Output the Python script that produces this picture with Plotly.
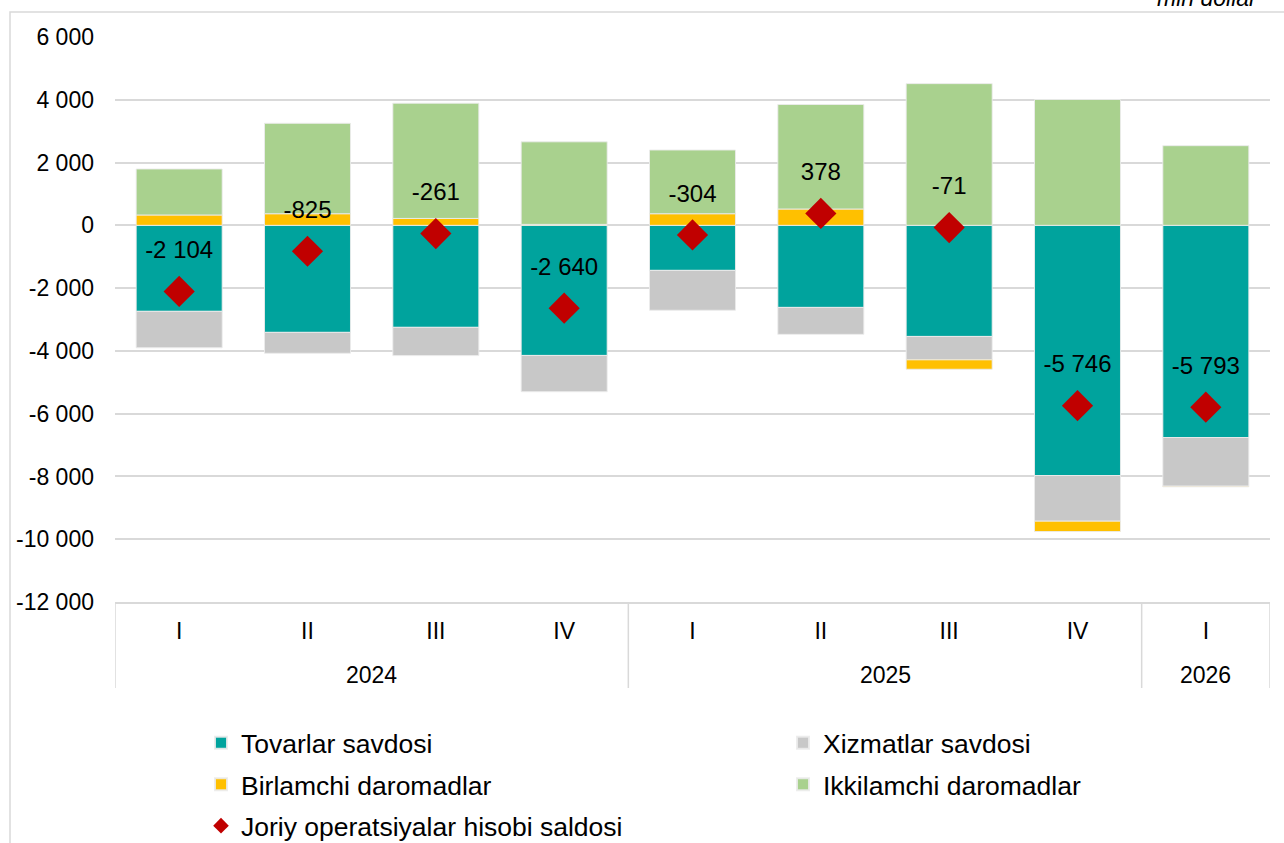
import plotly.graph_objects as go

years = ["2024"] * 4 + ["2025"] * 4 + ["2026"]
quarters = ["I", "II", "III", "IV", "I", "II", "III", "IV", "I"]

tovarlar = [-2740, -3410, -3250, -4145, -1435, -2615, -3540, -7970, -6760]
xizmatlar = [-1160, -665, -900, -1155, -1270, -857, -745, -1455, -1550]
birlamchi = [330, 370, 220, 30, 370, 520, -300, -330, -20]
ikkilamchi = [1465, 2880, 3670, 2630, 2030, 3330, 4514, 4009, 2537]
saldo = [-2104, -825, -261, -2640, -304, 378, -71, -5746, -5793]

y_ticks = [6000, 4000, 2000, 0, -2000, -4000, -6000, -8000, -10000, -12000]


def fmt(v):
    return f"{v:,}".replace(",", " ")


cats = [f"{y} {q}" for y, q in zip(years, quarters)]
FONT = "Liberation Sans, Arial, sans-serif"

fig = go.Figure()
bar_line = dict(color="rgba(235,235,235,0.9)", width=1)
fig.add_trace(go.Bar(x=cats, y=tovarlar, name="Tovarlar savdosi", legend="legend",
                     legendgroup="a", marker=dict(color="#00A39D", line=bar_line)))
fig.add_trace(go.Bar(x=cats, y=xizmatlar, name="Xizmatlar savdosi", legend="legend2",
                     legendgroup="b", marker=dict(color="#C8C8C8", line=bar_line)))
fig.add_trace(go.Bar(x=cats, y=birlamchi, name="Birlamchi daromadlar", legend="legend",
                     legendgroup="c", marker=dict(color="#FFC000", line=bar_line)))
fig.add_trace(go.Bar(x=cats, y=ikkilamchi, name="Ikkilamchi daromadlar", legend="legend2",
                     legendgroup="d", marker=dict(color="#A9D18E", line=bar_line)))
fig.add_trace(go.Scatter(x=cats, y=saldo, name="Joriy operatsiyalar hisobi saldosi",
                         legend="legend", legendgroup="e", mode="markers",
                         marker=dict(symbol="diamond", size=24, color="#C00000")))
fig.add_trace(go.Scatter(x=cats, y=saldo, mode="markers+text", showlegend=False,
                         text=[fmt(v) for v in saldo], textposition="top center",
                         textfont=dict(size=24, color="#000000", family=FONT),
                         marker=dict(size=42, opacity=0), hoverinfo="skip"))

leg_common = dict(orientation="v", xref="container", yref="container",
                  xanchor="left", yanchor="top", itemsizing="constant",
                  font=dict(size=26.5, family=FONT, color="#000000"),
                  traceorder="grouped", tracegroupgap=4, bgcolor="rgba(0,0,0,0)")

fig.update_layout(
    width=1284, height=843,
    margin=dict(l=115, r=14, t=37, b=241, autoexpand=False),
    paper_bgcolor="white", plot_bgcolor="white",
    barmode="relative", bargap=0.33,
    font=dict(family=FONT, size=23, color="#000000"),
    showlegend=True,
    legend=dict(x=201 / 1284, y=1 - 719 / 843, **leg_common),
    legend2=dict(x=783 / 1284, y=1 - 719 / 843, **leg_common),
    yaxis=dict(range=[-12000, 6000], tickvals=y_ticks,
               ticktext=[fmt(v) for v in y_ticks], automargin=False,
               showgrid=True, gridcolor="#D9D9D9", gridwidth=1.5,
               zeroline=True, zerolinecolor="#D9D9D9", zerolinewidth=1.5,
               showline=False, ticks="", ticklabelstandoff=20,
               tickfont=dict(size=23, family=FONT, color="#000000")),
    xaxis=dict(type="category", tickvals=cats, ticktext=quarters, automargin=False,
               range=[-0.5, len(cats) - 0.5],
               showline=True, linecolor="#D9D9D9", linewidth=1.5,
               ticks="", ticklabelstandoff=8,
               tickfont=dict(size=23, family=FONT, color="#000000"),
               showgrid=False),
)

# year group labels and dividers
groups = []
for i, y in enumerate(years):
    if not groups or groups[-1][0] != y:
        groups.append([y, i, i])
    else:
        groups[-1][2] = i
for y, i0, i1 in groups:
    fig.add_annotation(text=y, x=(i0 + i1) / 2, xref="x", y=(602 - 675) / 565, yref="paper",
                       yanchor="middle", showarrow=False,
                       font=dict(size=23, family=FONT, color="#000000"))
bounds = [groups[0][1] - 0.5] + [g[2] + 0.5 for g in groups]
for b in bounds:
    fig.add_shape(type="line", xref="x", yref="paper", x0=b, x1=b, y0=0,
                  y1=(602 - 688) / 565, line=dict(color="#D9D9D9", width=1.5))

fig.add_shape(type="rect", xref="paper", yref="paper",
              xsizemode="pixel", ysizemode="pixel", xanchor=0, yanchor=1,
              x0=-105, x1=1200, y0=25, y1=-830,
              line=dict(color="#D9D9D9", width=1.5), fillcolor="rgba(0,0,0,0)",
              layer="below")

fig.add_annotation(text="<i>mln dollar</i>", xref="paper", yref="paper",
                   x=0.9004, y=1.0425, xanchor="left", yanchor="bottom",
                   showarrow=False, font=dict(size=23, family=FONT, color="#000000"))

fig.write_html("out.html", config={"displayModeBar": False},
               post_script="document.body.style.margin='0px';document.body.style.overflow='hidden';")
